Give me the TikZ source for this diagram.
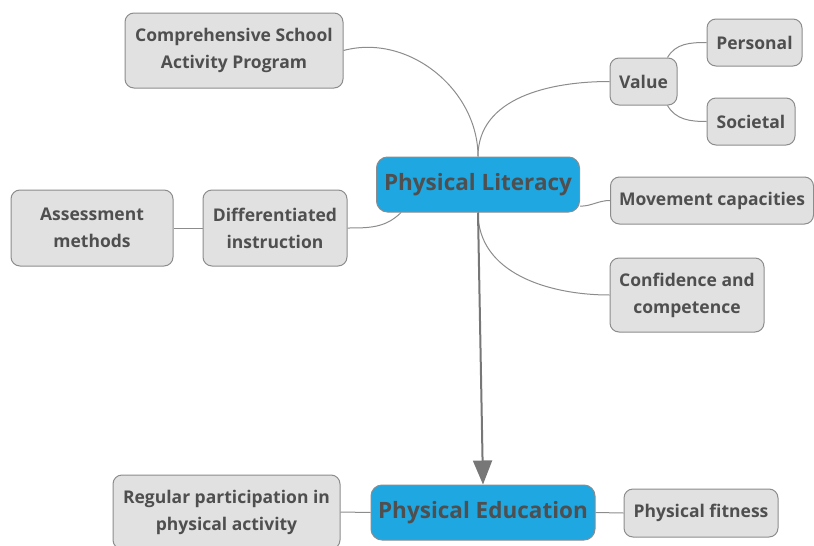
\documentclass[tikz,border=0pt]{standalone}
\usepackage{fontspec}
\setmainfont{Open Sans}
\usetikzlibrary{arrows.meta}
\definecolor{boxgray}{HTML}{E1E1E1}
\definecolor{edgegray}{HTML}{8C8C8C}
\definecolor{textgray}{HTML}{4F4F4F}
\definecolor{mainblue}{HTML}{1FA7E1}
\tikzset{
  topic/.style={draw=edgegray, fill=boxgray, line width=1pt, rounded corners=9pt,
    align=center, text=textgray, font=\fontsize{17.5}{27}\selectfont\bfseries, inner sep=0pt},
  central/.style={topic, fill=mainblue, rounded corners=11pt, font=\fontsize{22.5}{26}\selectfont\bfseries},
  link/.style={draw=edgegray, line width=1pt}
}
\begin{document}
\begin{tikzpicture}[x=1pt,y=-1pt]
  \useasboundingbox (0,0) rectangle (814,546);
  % central topics
  \node[central, minimum width=203pt, minimum height=55pt] (lit) at (478,184.5) {Physical Literacy};
  \node[central, minimum width=224pt, minimum height=55pt] (edu) at (483,512.5) {Physical Education};
  % branches of physical literacy
  \node[topic, minimum width=218pt, minimum height=75pt] (csap) at (234,50.5) {Comprehensive School\\Activity Program};
  \node[topic, minimum width=67pt, minimum height=47pt] (value) at (643.5,81.5) {Value};
  \node[topic, minimum width=95pt, minimum height=47pt] (pers) at (754.5,42.5) {Personal};
  \node[topic, minimum width=88pt, minimum height=47pt] (soc) at (751,121.5) {Societal};
  \node[topic, minimum width=203pt, minimum height=47pt] (move) at (712,200.5) {Movement capacities};
  \node[topic, minimum width=154pt, minimum height=74pt] (conf) at (687,295) {Confidence and\\competence};
  \node[topic, minimum width=144pt, minimum height=76pt] (diff) at (275,228) {Differentiated\\instruction};
  \node[topic, minimum width=162pt, minimum height=76pt] (assess) at (92,228) {Assessment\\methods};
  % branches of physical education
  \node[topic, minimum width=227pt, minimum height=74pt] (reg) at (226.5,512) {Regular participation in\\physical activity};
  \node[topic, minimum width=154pt, minimum height=48pt] (fit) at (701,513) {Physical fitness};
  % connectors
  \draw[link] (lit.north) to[out=90,in=15] (csap.east);
  \draw[link] (lit.north) to[out=90,in=180] (value.west);
  \draw[link] (value.45) to[out=60,in=180] (pers.west);
  \draw[link] (value.-45) to[out=-60,in=180] (soc.west);
  \draw[link] (lit.-12) to[out=0,in=180] (move.west);
  \draw[link] (lit.south) to[out=-90,in=180] (conf.west);
  \draw[link] (lit.200) to[out=-135,in=0] (diff.east);
  \draw[link] (diff.west) -- (assess.east);
  \draw[link] (edu.west) -- (reg.east);
  \draw[link] (edu.east) -- (fit.west);
  \draw[draw=edgegray!85!black, line width=2pt, -{Triangle[width=19pt,length=24pt]}] (lit.south) -- (edu.north);
\end{tikzpicture}
\end{document}
